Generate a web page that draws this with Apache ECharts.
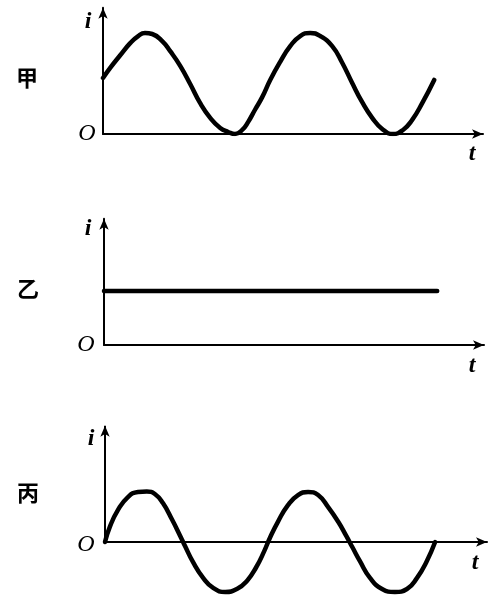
<!DOCTYPE html>
<html>
<head>
<meta charset="utf-8">
<script src="https://cdn.jsdelivr.net/npm/echarts@6/dist/echarts.min.js"></script>
<style>
html,body{margin:0;padding:0;background:#fff;}
#main{width:500px;height:605px;}
</style>
</head>
<body>
<div id="main"></div>
<script>
// Panel names and axis labels
const panelNames = ['甲', '乙', '丙'];
const yName = 'i';
const xName = 't';
const originName = 'O';

// 甲: pulsating current (always >= 0)
const jiaT = [0, 0.18, 0.43, 0.68, 0.88, 1.05, 1.23, 1.48, 1.68, 1.93, 2.18, 2.43, 2.68, 2.93, 3.13, 3.3, 3.48, 3.63, 3.8, 3.98, 4.18, 4.43, 4.68, 4.93, 5.18, 5.43, 5.73, 5.98, 6.23, 6.48, 6.73, 6.98, 7.25, 7.5, 7.73, 7.98, 8.28];
const jiaI = [1.11, 1.31, 1.56, 1.80, 1.94, 2.0, 1.98, 1.84, 1.64, 1.35, 0.99, 0.61, 0.32, 0.12, 0.04, 0, 0.08, 0.24, 0.48, 0.73, 1.07, 1.43, 1.74, 1.94, 2.0, 1.94, 1.74, 1.41, 1.01, 0.63, 0.32, 0.10, 0, 0.08, 0.28, 0.61, 1.07];

// 乙: constant current
const yiT = [0, 8.33];
const yiI = [1.07, 1.07];

// 丙: alternating current
const bingT = [0, 0.12, 0.32, 0.57, 0.82, 1.04, 1.24, 1.44, 1.67, 1.87, 1.99, 2.19, 2.44, 2.69, 2.99, 3.28, 3.53, 3.76, 3.96, 4.10, 4.30, 4.55, 4.80, 5.05, 5.30, 5.55, 5.80, 6.00, 6.15, 6.34, 6.59, 6.89, 7.21, 7.51, 7.76, 7.99, 8.21];
const bingI = [0, 0.30, 0.63, 0.89, 0.99, 1.0, 0.95, 0.77, 0.44, 0.12, -0.08, -0.40, -0.71, -0.91, -0.99, -0.93, -0.77, -0.50, -0.18, 0.08, 0.40, 0.73, 0.93, 0.99, 0.93, 0.69, 0.40, 0.12, -0.10, -0.38, -0.71, -0.93, -0.99, -0.93, -0.71, -0.40, 0];

// Axis ranges
const xMax = 9.5;
const yMaxTop = 2.5;
const yMinBing = -1.2;
const yMaxBing = 2.3;

const zip = (a, b) => a.map((v, i) => [v, b[i]]);

const axisLineStyle = {color: '#000', width: 2};
const arrowSym = ['none', 'arrow'];
const arrowSize = [7, 11];

function mkX(gi) {
  return {
    type: 'value', gridIndex: gi, min: 0, max: xMax,
    axisLine: {show: true, onZero: true, lineStyle: axisLineStyle, symbol: arrowSym, symbolSize: arrowSize},
    axisTick: {show: false}, axisLabel: {show: false}, splitLine: {show: false}
  };
}
function mkY(gi, min, max, showLine) {
  return {
    type: 'value', gridIndex: gi, min: min, max: max,
    axisLine: {show: showLine, onZero: false, lineStyle: axisLineStyle, symbol: arrowSym, symbolSize: arrowSize},
    axisTick: {show: false}, axisLabel: {show: false}, splitLine: {show: false}
  };
}

const curveStyle = {color: '#000', width: 4.5, cap: 'round', join: 'round'};

const serif = "'Liberation Serif', 'DejaVu Serif', serif";
const cjk = "'Noto Sans CJK SC', sans-serif";

function txt(x, y, s, font, size, weight, style) {
  return {
    type: 'text', x: x, y: y,
    style: {text: s, fontFamily: font, fontSize: size, fontWeight: weight, fontStyle: style,
            fill: '#000', align: 'center', verticalAlign: 'middle'}
  };
}

const option = {
  animation: false,
  backgroundColor: '#fff',
  grid: [
    {left: 103, top: 7.75, width: 380, height: 126.25},
    {left: 104, top: 218.75, width: 380, height: 126.25},
    {left: 105, top: 425.85, width: 382, height: 176.75}
  ],
  xAxis: [mkX(0), mkX(1), mkX(2)],
  yAxis: [mkY(0, 0, yMaxTop, true), mkY(1, 0, yMaxTop, true), mkY(2, yMinBing, yMaxBing, false)],
  series: [
    {type: 'line', xAxisIndex: 0, yAxisIndex: 0, data: zip(jiaT, jiaI), smooth: 0.5,
     showSymbol: false, symbol: 'none', lineStyle: curveStyle},
    {type: 'line', xAxisIndex: 1, yAxisIndex: 1, data: zip(yiT, yiI),
     showSymbol: false, symbol: 'none', lineStyle: curveStyle},
    {type: 'line', xAxisIndex: 2, yAxisIndex: 2, data: zip(bingT, bingI), smooth: 0.5,
     showSymbol: false, symbol: 'none', lineStyle: curveStyle,
     markLine: {
       silent: true, symbol: arrowSym, symbolSize: arrowSize,
       label: {show: false},
       lineStyle: {color: '#000', width: 2, type: 'solid'},
       data: [[{coord: [0, 0]}, {coord: [0, yMaxBing]}]]
     }}
  ],
  graphic: [
    txt(27, 78, panelNames[0], cjk, 22, 'bold', 'normal'),
    txt(28, 289, panelNames[1], cjk, 22, 'bold', 'normal'),
    txt(28, 493, panelNames[2], cjk, 22, 'bold', 'normal'),
    txt(88, 22, yName, serif, 24, 'bold', 'italic'),
    txt(88, 229, yName, serif, 24, 'bold', 'italic'),
    txt(91, 439, yName, serif, 24, 'bold', 'italic'),
    txt(87, 134, originName, serif, 24, 'normal', 'italic'),
    txt(86, 345, originName, serif, 24, 'normal', 'italic'),
    txt(86, 545, originName, serif, 24, 'normal', 'italic'),
    txt(472, 154, xName, serif, 24, 'bold', 'italic'),
    txt(472, 366, xName, serif, 24, 'bold', 'italic'),
    txt(475, 563, xName, serif, 24, 'bold', 'italic')
  ]
};

const chart = echarts.init(document.getElementById('main'), null, {renderer: 'canvas'});
chart.setOption(option);
</script>
</body>
</html>
